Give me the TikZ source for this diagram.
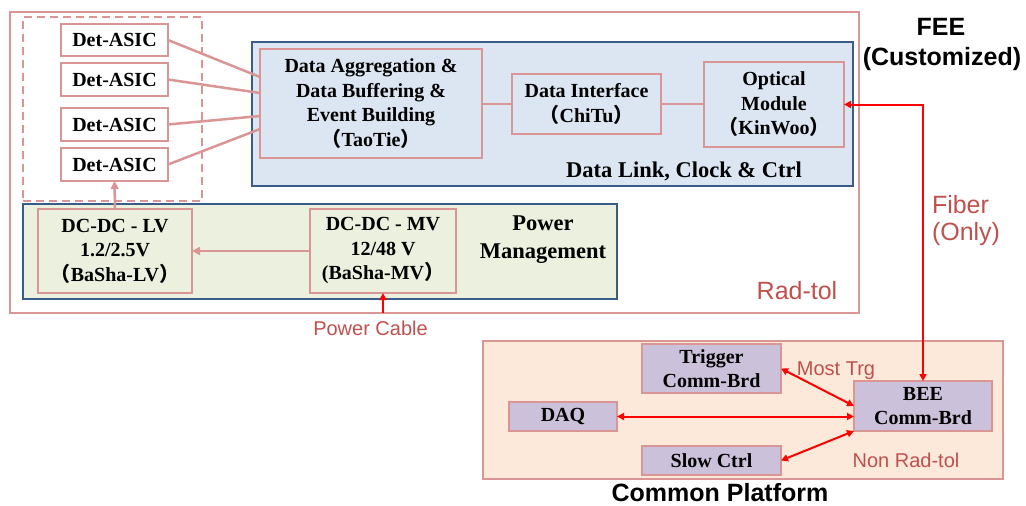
\documentclass[tikz,border=0pt]{standalone}
\usepackage{fontspec}
\setmainfont{Liberation Serif}
\setsansfont{Liberation Sans}
\newfontfamily\cjk{Noto Sans CJK SC}
\usetikzlibrary{arrows.meta,calc}
\definecolor{pinkline}{HTML}{D99694}
\definecolor{blueline}{HTML}{385D8A}
\definecolor{bluefill}{HTML}{DCE6F2}
\definecolor{greenfill}{HTML}{EBF1DE}
\definecolor{peachfill}{HTML}{FDE9D9}
\definecolor{lavfill}{HTML}{CCC1DA}
\definecolor{labelred}{HTML}{C0504D}
\definecolor{wirered}{HTML}{FF0000}
% full-width brackets
\newcommand{\fwl}{{\cjk （}}
\newcommand{\fwr}{{\cjk ）}}

\begin{document}
\begin{tikzpicture}[x=1pt,y=-1pt,
  every node/.style={inner sep=0pt, outer sep=0pt},
  frame/.style={draw=pinkline, line width=2pt},
  panel/.style={draw=blueline, line width=2.5pt},
  pbox/.style={draw=pinkline, line width=2pt, align=center,
    font=\fontsize{20}{24.5}\selectfont\bfseries},
  cbox/.style={pbox, fill=lavfill},
  heading/.style={align=center, font=\fontsize{22.5}{28}\selectfont\bfseries},
  title/.style={font=\sffamily\bfseries\fontsize{25}{30}\selectfont},
  tag/.style={text=labelred, font=\sffamily\fontsize{20}{24}\selectfont},
  bigtag/.style={text=labelred, font=\sffamily\fontsize{25}{30}\selectfont},
  pinkwire/.style={draw=pinkline, line width=2.5pt},
  pinkarrow/.style={pinkwire, -{Triangle[length=8pt,width=8pt]}},
  redarrow/.style={draw=wirered, line width=2pt, -{Triangle[length=7pt,width=7pt]}},
  redboth/.style={draw=wirered, line width=2pt,
    {Triangle[length=7pt,width=7pt]}-{Triangle[length=7pt,width=7pt]}},
]
\useasboundingbox (0,0) rectangle (1026,506);

% front-end enclosure
\node[frame, minimum width=849, minimum height=301] (fee) at (434.5,162.5) {};
\node[draw=pinkline, line width=2pt, dash pattern=on 8pt off 5pt,
  minimum width=179, minimum height=184] (asics) at (112.5,109) {};

% data link panel
\node[panel, fill=bluefill, minimum width=601, minimum height=144] (link) at (552.5,114) {};
\node[pbox, fill=bluefill, minimum width=222, minimum height=109] (agg) at (371,103.5)
  {Data Aggregation \&\\Data Buffering \&\\Event Building\\\fwl TaoTie\fwr};
\node[pbox, fill=bluefill, minimum width=149, minimum height=60] (iface) at (586.5,104)
  {Data Interface\\\fwl ChiTu\fwr};
\node[pbox, fill=bluefill, minimum width=140, minimum height=85] (opt) at (774,104.5)
  {Optical\\Module\\\fwl KinWoo\fwr};
\node[heading, anchor=base] (linktxt) at (684,177) {Data Link, Clock \& Ctrl};

% detector ASICs
\node[pbox, fill=white, minimum width=107, minimum height=32] (d1) at (114.5,40) {Det-ASIC};
\node[pbox, fill=white, minimum width=107, minimum height=33] (d2) at (114.5,79.5) {Det-ASIC};
\node[pbox, fill=white, minimum width=107, minimum height=33] (d3) at (114.5,124.5) {Det-ASIC};
\node[pbox, fill=white, minimum width=107, minimum height=33] (d4) at (114.5,164.5) {Det-ASIC};

% power management panel
\node[panel, fill=greenfill, minimum width=594, minimum height=95] (power) at (320,251.5) {};
\node[pbox, fill=greenfill, minimum width=154, minimum height=84] (lv) at (115,251)
  {DC-DC - LV\\1.2/2.5V\\\fwl BaSha-LV\fwr};
\node[pbox, fill=greenfill, minimum width=146, minimum height=84] (mv) at (383,251)
  {DC-DC - MV\\12/48 V\\(BaSha-MV\fwr};
\node[heading, anchor=base] (pm1) at (543,230) {Power};
\node[heading, anchor=base] (pm2) at (543,258) {Management};

% common platform
\node[draw=pinkline, line width=2pt, fill=peachfill, minimum width=520, minimum height=138] (common) at (743,410) {};
\node[cbox, minimum width=139, minimum height=49] (trig) at (711.5,368.5) {Trigger\\Comm-Brd};
\node[cbox, minimum width=138, minimum height=50] (bee) at (923,406) {BEE\\Comm-Brd};
\node[cbox, minimum width=108, minimum height=29] (daq) at (563,416.5) {DAQ};
\node[cbox, minimum width=139, minimum height=29] (slow) at (711.5,460.5) {Slow Ctrl};

% labels
\node[title, anchor=base] (feeA) at (941,35) {FEE};
\node[title, anchor=base] (feeB) at (942,65) {(Customized)};
\node[bigtag, anchor=base west] (fib1) at (932,213) {Fiber};
\node[bigtag, anchor=base west] (fib2) at (932,240) {(Only)};
\node[bigtag, anchor=base] (radtol) at (797,299) {Rad-tol};
\node[tag, anchor=base] (cable) at (370.5,335) {Power Cable};
\node[tag, anchor=base] (most) at (836,375) {Most Trg};
\node[tag, anchor=base] (nonrad) at (906,467) {Non Rad-tol};
\node[title, anchor=base] (cp) at (720,501) {Common Platform};

% connections inside the front end
\draw[pinkwire] (d1.east) -- ([yshift=26.5pt]agg.west);
\draw[pinkwire] (d2.east) -- ([yshift=10.5pt]agg.west);
\draw[pinkwire] (d3.east) -- ([yshift=-12.5pt]agg.west);
\draw[pinkwire] (d4.east) -- ([yshift=-25.5pt]agg.west);
\draw[pinkwire] (agg.east |- iface.west) -- (iface.west);
\draw[pinkwire] (iface.east) -- (opt.west |- iface.east);
\draw[pinkarrow] (mv.west) -- (lv.east);
\draw[pinkarrow] (lv.north) -- (d4.south);
\draw[redarrow] (mv.south |- fee.south) -- (mv.south);

% fiber and back-end links
\draw[redboth] (opt.east) -| (bee.north);
\draw[redboth] (trig.east) -- (bee.west);
\draw[redboth] (daq.east) -- (bee.west |- daq.east);
\draw[redboth] (slow.east) -- (bee.south west);
\end{tikzpicture}
\end{document}
